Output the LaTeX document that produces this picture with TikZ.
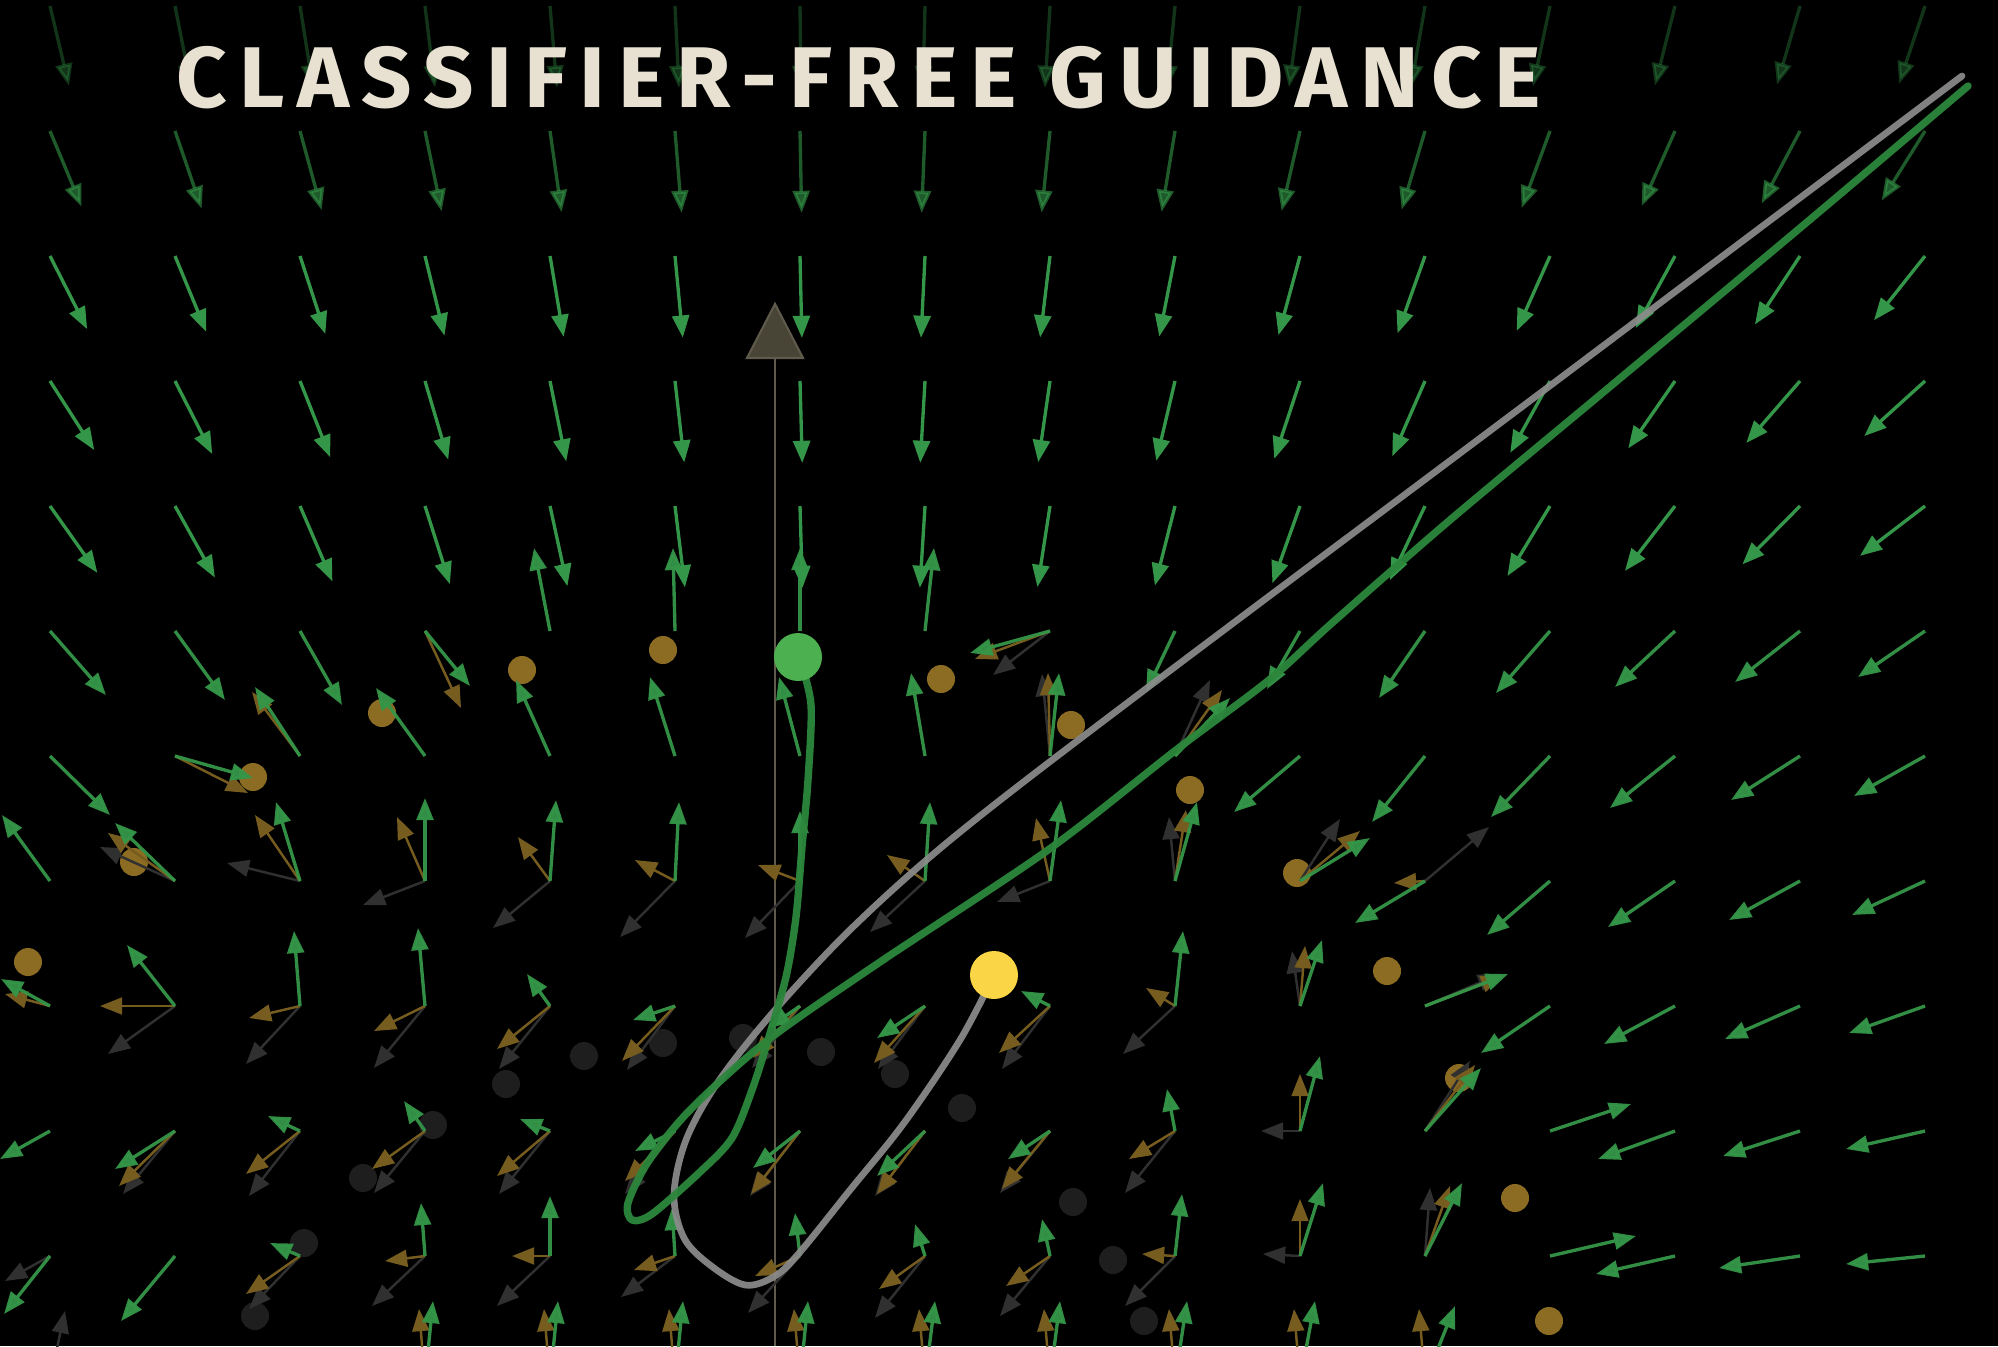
\documentclass[tikz,border=0pt]{standalone}
\usepackage{fontspec}
\usepackage{graphicx}
\usetikzlibrary{arrows.meta}
\newfontfamily\titlefont{Fira Sans}[LetterSpace=14]
\definecolor{garrc}{RGB}{52,150,72}
\definecolor{oarrc}{RGB}{118,92,30}
\definecolor{karrc}{RGB}{48,48,48}
\definecolor{odotc}{RGB}{140,108,35}
\definecolor{kdotc}{RGB}{30,30,30}
\definecolor{trajg}{RGB}{44,135,60}
\definecolor{trajk}{RGB}{140,140,140}
\definecolor{gdotc}{RGB}{76,175,80}
\definecolor{ydotc}{RGB}{250,214,70}
\definecolor{axisc}{RGB}{95,90,76}
\definecolor{axisfill}{RGB}{72,68,54}
\definecolor{titlec}{RGB}{232,225,210}
\tikzset{
  fieldarrow/.style={line width=0.95pt, -{Triangle[length=6.3pt,width=4.8pt]}},
  garr/.style={fieldarrow, draw=garrc, opacity=0.95},
  oarr/.style={fieldarrow, line width=0.7pt, draw=oarrc},
  karr/.style={fieldarrow, line width=0.7pt, draw=karrc},
  odot/.style={fill=odotc},
  kdot/.style={fill=kdotc},
  trajline/.style={line width=1.9pt, line cap=round, line join=round},
}
\begin{document}
\begin{tikzpicture}[x=0.01cm, y=-0.01cm]
\useasboundingbox (0,0) rectangle (1998,1346);
\fill[black] (0,0) rectangle (1998,1346);
\clip (0,0) rectangle (1998,1346);

% dark (unconditional) data points
\foreach \px/\py in {584/1056, 506/1084, 663/1043, 743/1038, 821/1052, 895/1074, 962/1108,
  433/1125, 363/1178, 304/1243, 255/1316, 1073/1202, 1113/1260, 1144/1321}
  \fill[kdot] (\px,\py) circle (14);

% orange (class) data points
\foreach \px/\py in {28/962, 134/862, 253/777, 382/713, 522/670, 663/650, 941/679,
  1071/725, 1190/790, 1297/873, 1387/971, 1459/1078, 1515/1198, 1549/1321}
  \fill[odot] (\px,\py) circle (14);

% vertical axis
\draw[axisc, line width=0.6pt] (775,358) -- (775,1346);
\filldraw[fill=axisfill, draw=axisc, line width=0.6pt] (775,304) -- (803,358) -- (747,358) -- cycle;

% upper rows of the guided field
\foreach \j/\k/\op in {0/0.024/0.35, 1/0.040/0.6, 2/0.047/1, 3/0.056/1, 4/0.060/1} {
  \foreach \i in {0,...,15} {
    \pgfmathsetmacro\xx{50+125*\i}
    \pgfmathsetmacro\u{-(\xx-840)*\k}
    \pgfmathsetmacro\v{sqrt(6724-\u*\u)}
    \draw[garr, opacity=\op] (\xx,{6+125*\j}) -- ++(\u,\v);
  }
}

% unconditional field (gray)
\foreach \r/\lst in {
  5/{8/-57/44},
  6/{8/-8/-82, 9/35/-76},
  7/{1/-75/-34, 2/-73/-18, 3/-62/24, 4/-57/47, 5/-55/56, 6/-55/57, 7/-55/51, 8/-53/21, 9/-6/-64, 10/40/-62, 11/64/-54},
  8/{1/-67/48, 2/-54/58, 3/-51/62, 4/-51/63, 5/-48/64, 6/-48/62, 7/-47/63, 8/-48/63, 9/-52/48, 10/-8/-55, 11/75/-32},
  9/{1/-52/63, 2/-51/65, 3/-51/62, 4/-51/63, 5/-50/63, 6/-50/65, 7/-50/65, 8/-50/62, 9/-50/62, 10/-39/0, 11/45/-70},
  10/{0/-45/25, 2/-51/53, 3/-53/50, 4/-53/50, 5/-54/41, 6/-52/57, 7/-50/62, 8/-50/60, 9/-50/50, 10/-37/-2, 11/5/-68},
  11/{0/15/-70}}
  \foreach \i/\u/\v in \lst
    \draw[karr] ({50+125*\i},{6+125*\r}) -- ++(\u,\v);

% conditional field (orange)
\foreach \r/\lst in {
  5/{3/36/77, 8/-75/28},
  6/{1/73/37, 2/-48/-64, 8/-2/-83, 9/47/-66},
  7/{1/-67/-48, 2/-45/-66, 3/-28/-64, 4/-32/-44, 5/-40/-21, 6/-42/-16, 7/-38/-26, 8/-14/-63, 9/11/-71, 10/60/-50, 11/-31/2},
  8/{0/-45/-12, 1/-75/0, 2/-51/12, 3/-51/25, 4/-53/43, 5/-53/55, 6/-47/52, 7/-51/57, 8/-51/47, 9/-29/-18, 10/5/-60, 11/78/-30},
  9/{1/-56/55, 2/-54/43, 3/-53/38, 4/-53/45, 5/-50/50, 6/-49/63, 7/-48/63, 8/-48/58, 9/-46/28, 10/0/-57, 11/50/-66},
  10/{2/-54/38, 3/-40/5, 4/-38/0, 5/-41/14, 6/-45/20, 7/-46/33, 8/-44/30, 9/-33/-2, 10/0/-57, 11/25/-70},
  11/{3/-6/-72, 4/-6/-72, 5/-6/-72, 6/-6/-72, 7/-6/-72, 8/-6/-72, 9/-6/-72, 10/-6/-72, 11/-6/-72}}
  \foreach \i/\u/\v in \lst
    \draw[oarr] ({50+125*\i},{6+125*\r}) -- ++(\u,\v);

% guided field (green), lower rows
\foreach \r/\lst in {
  5/{0/56/64, 1/50/69, 2/42/74, 3/45/55, 4/-16/-83, 5/-2/-83, 6/0/-83, 7/9/-83, 8/-80/22, 9/-29/61, 10/-33/58, 11/-46/67, 12/-54/62, 13/-60/56, 14/-65/51, 15/-67/46},
  6/{0/60/59, 1/78/22, 2/-45/-69, 3/-49/-68, 4/-34/-76, 5/-25/-79, 6/-21/-79, 7/-14/-83, 8/9/-83, 9/55/-58, 10/-66/56, 11/-53/66, 12/-59/61, 13/-65/52, 14/-69/44, 15/-71/40},
  7/{0/-48/-66, 1/-60/-58, 2/-24/-79, 3/0/-83, 4/6/-81, 5/4/-79, 6/0/-70, 7/5/-79, 8/11/-81, 9/22/-79, 10/70/-43, 11/-70/42, 12/-63/54, 13/-67/46, 14/-71/39, 15/-73/34},
  8/{0/-49/-27, 1/-48/-61, 2/-6/-75, 3/-7/-78, 4/-23/-32, 5/-42/14, 6/-32/22, 7/-48/32, 8/-29/-15, 9/8/-75, 10/22/-66, 11/83/-32, 12/-69/47, 13/-71/38, 14/-75/33, 15/-76/27},
  9/{0/-50/28, 1/-60/38, 2/-32/-15, 3/-21/-30, 4/-30/-12, 5/-40/20, 6/-47/37, 7/-48/45, 8/-42/28, 9/-8/-42, 10/20/-75, 11/56/-63, 12/81/-27, 13/-77/28, 14/-77/25, 15/-79/18},
  10/{0/-46/58, 1/-54/65, 2/-30/-13, 3/-4/-53, 4/0/-60, 5/-3/-48, 6/-5/-43, 7/-10/-32, 8/-8/-37, 9/7/-62, 10/23/-73, 11/37/-73, 12/86/-20, 13/-79/18, 14/-81/12, 15/-79/8},
  11/{3/8/-80, 4/8/-80, 5/8/-80, 6/8/-80, 7/10/-80, 8/10/-80, 9/12/-80, 10/15/-80, 11/30/-75}}
  \foreach \i/\u/\v in \lst
    \draw[garr] ({50+125*\i},{6+125*\r}) -- ++(\u,\v);

% trajectories
\draw[trajline, trajk, opacity=0.92] plot[smooth, tension=0.55] coordinates {
  (1962,76) (1555,382) (1147,688) (960,832) (855,925) (775,1010) (718,1082)
  (686,1140) (674,1195) (684,1238) (710,1265) (745,1285) (775,1276) (800,1252)
  (850,1190) (904,1123) (960,1040) (994,975)};
\draw[trajline, trajg, line width=2.1pt, opacity=0.95] plot[smooth, tension=0.5] coordinates {
  (1968,86) (1800,228) (1600,395) (1450,520) (1332,623) (1269,680) (1176,750)
  (1048,850) (880,962) (768,1040) (690,1110) (648,1162) (628,1203) (632,1220)
  (652,1214) (700,1172) (732,1138) (752,1090) (768,1040) (786,977) (796,917)
  (802,847) (808,780) (811,705) (800,660)};

% start and end points
\fill[gdotc] (798,657) circle (24);
\fill[ydotc] (994,975) circle (24);

% title
\node[anchor=base west, text=titlec, inner sep=0pt] (title) at (176,108)
  {\resizebox{387.8pt}{17.4pt}{\titlefont\bfseries CLASSIFIER-FREE GUIDANCE}};
\end{tikzpicture}
\end{document}
